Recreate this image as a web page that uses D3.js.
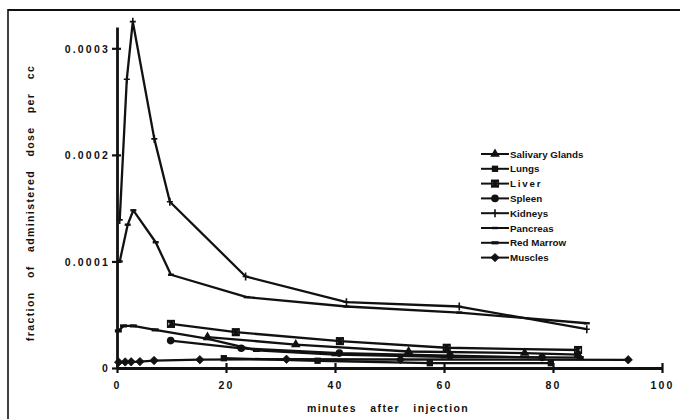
<!DOCTYPE html>
<html><head><meta charset="utf-8">
<script src="https://cdn.jsdelivr.net/npm/d3@7"></script>
<style>
html,body{margin:0;padding:0;background:#fff;}
svg{display:block;}
text{font-family:"Liberation Sans",Arial,sans-serif;fill:#111;}
</style></head><body>
<svg id="c" width="680" height="419"></svg>
<script>
// ---- data (minutes, fraction of administered dose per cc) ----
const seriesNames = ["Salivary Glands","Lungs","Liver","Spleen","Kidneys","Pancreas","Red Marrow","Muscles"];
const salivaryX = [16.6, 32.8, 53.5, 74.8, 84.6];
const salivaryY = [0.0000290, 0.0000220, 0.0000155, 0.0000140, 0.0000125];
const lungsX = [19.6, 36.8, 57.4, 79.6];
const lungsY = [0.0000092, 0.0000068, 0.0000045, 0.0000045];
const liverX = [9.9, 21.8, 40.9, 60.5, 84.6];
const liverY = [0.0000414, 0.0000336, 0.0000252, 0.0000190, 0.0000169];
const spleenX = [9.85, 22.8, 40.8, 61.1, 78.0];
const spleenY = [0.0000257, 0.0000185, 0.0000140, 0.0000115, 0.0000098];
const kidneysX = [0.5, 1.8, 2.9, 6.85, 9.7, 23.6, 42.1, 62.8, 86.2];
const kidneysY = [0.000139, 0.000271, 0.000325, 0.000215, 0.000156, 0.0000859, 0.0000618, 0.0000577, 0.0000364];
const pancreasX = [0.5, 1.96, 3.0, 7.1, 9.9, 23.8, 42.1, 62.8, 86.2];
const pancreasY = [0.000100, 0.0001345, 0.000148, 0.000118, 0.0000875, 0.0000665, 0.0000577, 0.0000520, 0.0000420];
const marrowX = [0.25, 1.2, 3.0, 7.0, 16.5, 25.6, 40.0, 60.0, 85.0];
const marrowY = [0.0000348, 0.0000395, 0.0000395, 0.0000358, 0.0000275, 0.0000165, 0.0000125, 0.0000105, 0.0000098];
const musclesX = [0.3, 1.5, 2.6, 4.2, 6.8, 15.2, 31.1, 52.0, 93.8];
const musclesY = [0.0000055, 0.0000057, 0.0000058, 0.0000060, 0.0000070, 0.0000078, 0.0000082, 0.0000080, 0.0000077];
const xTicks = [0, 20, 40, 60, 80, 100];
const yTicks = [0, 0.0001, 0.0002, 0.0003];
const yTickLabels = ["0", "0.0001", "0.0002", "0.0003"];
const xTitle = "minutes after injection";
const yTitle = "fraction of administered dose per cc";

const seriesX = [salivaryX, lungsX, liverX, spleenX, kidneysX, pancreasX, marrowX, musclesX];
const seriesY = [salivaryY, lungsY, liverY, spleenY, kidneysY, pancreasY, marrowY, musclesY];
const markerTypes = ["triangle","square","xsquare","circle","plus","dash","dash2","diamond"];

const svg = d3.select("#c");
const x = d3.scaleLinear().domain([0, 100]).range([117, 662]);
const y = d3.scaleLinear().domain([0, 0.00032]).range([368, 27]);

// frame
svg.append("line").attr("x1", 8).attr("x2", 680).attr("y1", 10).attr("y2", 10).attr("stroke", "#111").attr("stroke-width", 2);
svg.append("line").attr("x1", 8).attr("x2", 8).attr("y1", 9).attr("y2", 419).attr("stroke", "#111").attr("stroke-width", 1.6);

// axes
const xAxis = d3.axisBottom(x).tickValues(xTicks).tickSize(0).tickFormat("");
const gx = svg.append("g").attr("transform", `translate(0,${y(0)})`).call(xAxis);
gx.select(".domain").attr("stroke", "#111").attr("stroke-width", 2.8);
gx.selectAll(".tick line").attr("y1", -5).attr("y2", 5).attr("stroke", "#111").attr("stroke-width", 2.2);
gx.selectAll(".tick").append("text").attr("y", 21).attr("text-anchor", "middle")
  .style("font-size", "10.5px").style("font-weight", "bold").style("letter-spacing", "2.2px")
  .text(d => d);

const yAxis = d3.axisLeft(y).tickValues(yTicks).tickSize(0).tickFormat("");
const gy = svg.append("g").attr("transform", `translate(${x(0)},0)`).call(yAxis);
gy.select(".domain").attr("stroke", "#111").attr("stroke-width", 2.8);
gy.selectAll(".tick line").attr("x1", -5).attr("x2", 4).attr("stroke", "#111").attr("stroke-width", 2.2);
gy.selectAll(".tick").append("text").attr("x", -7).attr("dy", "0.35em").attr("text-anchor", "end")
  .style("font-size", "10.5px").style("font-weight", "bold").style("letter-spacing", "2.2px")
  .text((d, i) => yTickLabels[i]);

// titles
svg.append("text").attr("x", 388).attr("y", 412).attr("text-anchor", "middle")
  .style("font-size", "10.5px").style("font-weight", "bold").style("letter-spacing", "1.4px").style("word-spacing", "9px")
  .text(xTitle);
svg.append("text").attr("transform", "translate(34,203) rotate(-90)").attr("text-anchor", "middle")
  .style("font-size", "10.5px").style("font-weight", "bold").style("letter-spacing", "1.4px").style("word-spacing", "9px")
  .text(yTitle);

// marker drawing
function drawMarker(g, type) {
  if (type === "triangle") g.append("path").attr("d", d3.symbol(d3.symbolTriangle, 40)()).attr("fill", "#111");
  else if (type === "square") g.append("path").attr("d", d3.symbol(d3.symbolSquare, 40)()).attr("fill", "#111");
  else if (type === "xsquare") {
    g.append("path").attr("d", "M-3.4,-3.4H3.4L-3.4,3.4H3.4Z").attr("fill", "#111");
    g.append("rect").attr("x", -3.3).attr("y", -3.3).attr("width", 6.6).attr("height", 6.6).attr("fill", "none").attr("stroke", "#111").attr("stroke-width", 1.5);
    g.append("path").attr("d", "M-3.3,-3.3L3.3,3.3M3.3,-3.3L-3.3,3.3").attr("stroke", "#111").attr("stroke-width", 1.6);
  }
  else if (type === "circle") g.append("circle").attr("r", 3.8).attr("fill", "#111");
  else if (type === "plus") g.append("path").attr("d", "M-3,0H3M0,-4V4").attr("stroke", "#111").attr("stroke-width", 1.6);
  else if (type === "dash") g.append("path").attr("d", "M-3,0H3").attr("stroke", "#111").attr("stroke-width", 2.4);
  else if (type === "dash2") g.append("path").attr("d", "M-3.5,0H3.5").attr("stroke", "#111").attr("stroke-width", 3.2);
  else if (type === "diamond") g.append("path").attr("d", "M0,-4.2L4.2,0L0,4.2L-4.2,0Z").attr("fill", "#111").attr("stroke", "#111").attr("stroke-width", 0.8).attr("stroke-linejoin", "round");
}

const line = d3.line().x(d => x(d[0])).y(d => y(d[1]));
seriesNames.forEach((name, i) => {
  const pts = seriesX[i].map((v, j) => [v, seriesY[i][j]]);
  svg.append("path").datum(pts).attr("d", line).attr("fill", "none")
    .attr("stroke", "#111").attr("stroke-width", 2.3).attr("stroke-linejoin", "round");
  pts.forEach(p => {
    const g = svg.append("g").attr("transform", `translate(${x(p[0])},${y(p[1])})`);
    drawMarker(g, markerTypes[i]);
  });
});

// legend
const lg = svg.append("g");
seriesNames.forEach((name, i) => {
  const yy = 154 + i * 14.8;
  lg.append("line").attr("x1", 481).attr("x2", 509).attr("y1", yy).attr("y2", yy).attr("stroke", "#111").attr("stroke-width", 2);
  const g = lg.append("g").attr("transform", `translate(495,${yy})`);
  drawMarker(g, markerTypes[i]);
  lg.append("text").attr("x", 510).attr("y", yy).attr("dy", "0.36em")
    .style("font-size", "9.8px").style("font-weight", "bold")
    .style("letter-spacing", name === "Liver" ? "1.8px" : "0px")
    .text(name);
});
</script>
</body></html>
